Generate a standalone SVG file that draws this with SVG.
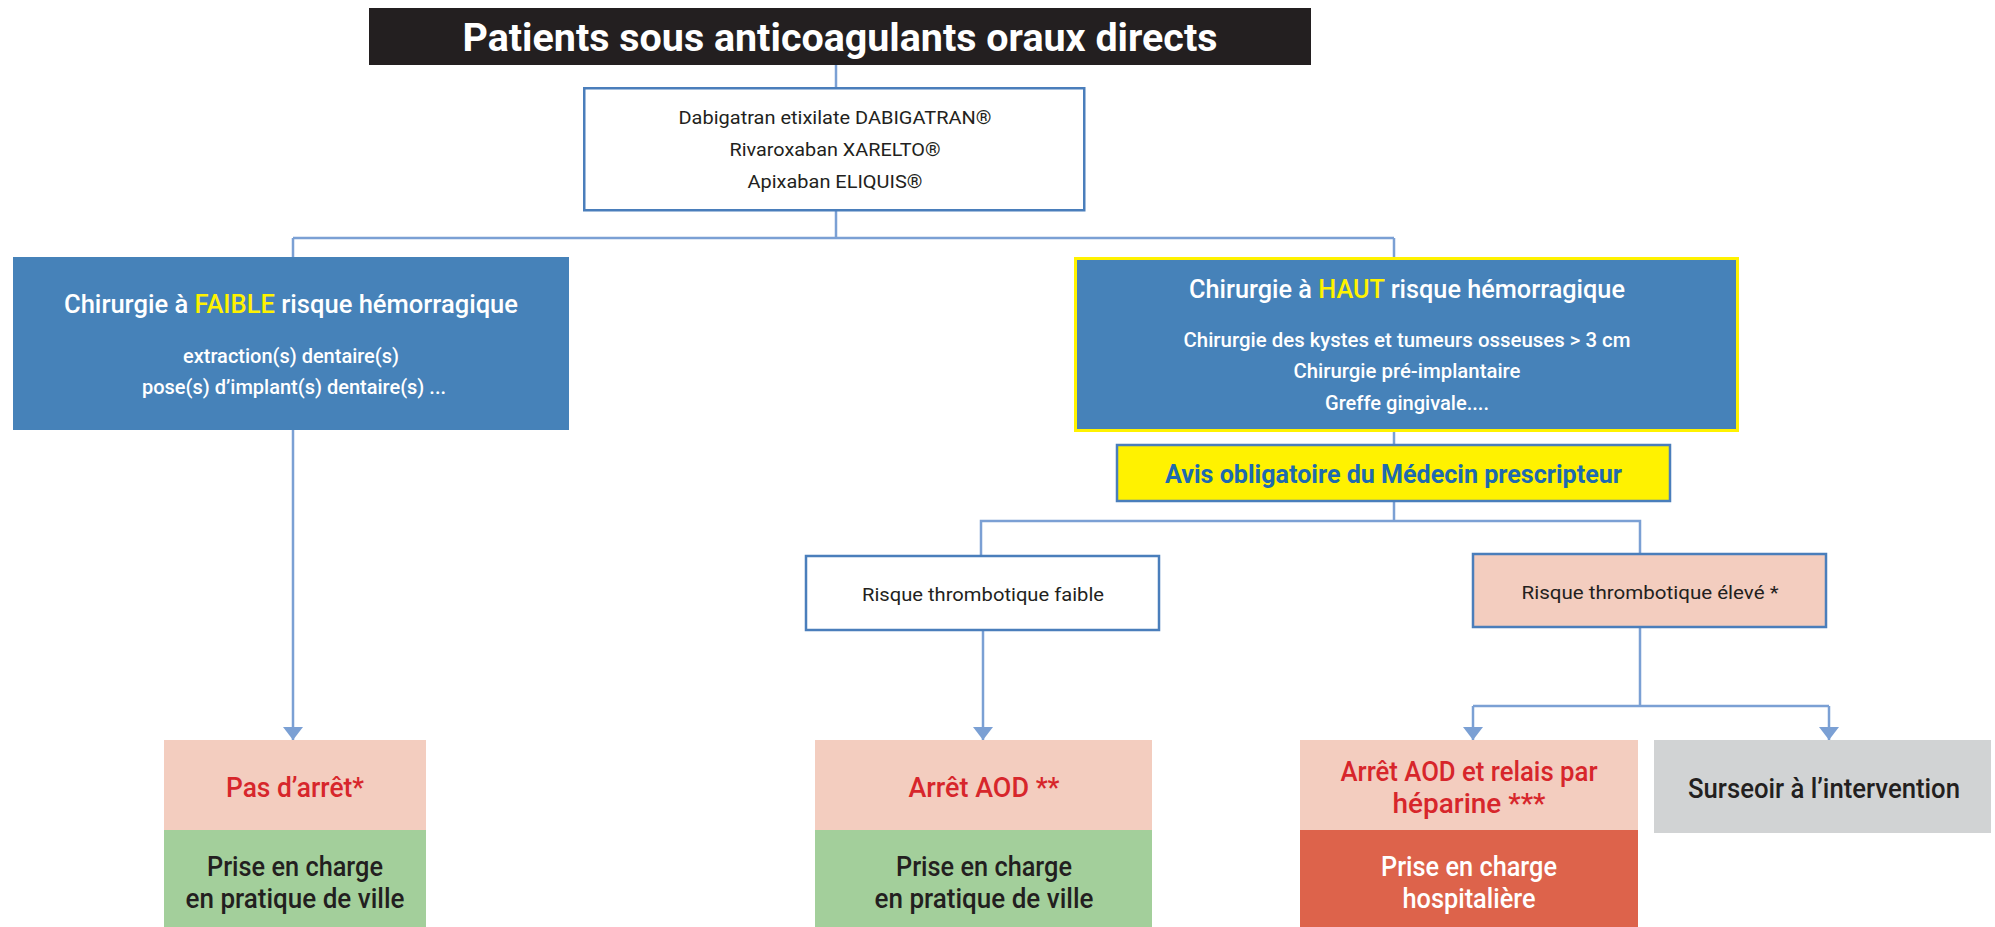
<svg xmlns="http://www.w3.org/2000/svg" width="1995" height="927" viewBox="0 0 1995 927">
<style>
text{font-family:Roboto,"Liberation Sans",Arial,sans-serif;text-anchor:middle}
.conn{fill:none;stroke:#7ba0d4;stroke-width:2.5}
.bx{stroke:#4a7ebb;stroke-width:2.5}
.white{fill:#ffffff}
.blue{fill:#4682b9}
.salmon{fill:#f3cdbf}
.green{fill:#a3cf9b}
.hosp{fill:#dd634b}
.gray{fill:#d1d3d4}
.dark{fill:#231f20}
.red{fill:#d7262b}
.yel{fill:#fff200}
.t-reg{font-size:19px;font-weight:400}
.t-title{font-size:25px;font-weight:500}
.t-sub{font-size:20px;font-weight:500}
.t-bot{font-size:27px;font-weight:500}
</style>
<defs>
<marker id="arr" viewBox="0 0 13 20" refX="13" refY="10" markerWidth="13" markerHeight="20" markerUnits="userSpaceOnUse" orient="auto">
<path d="M0,0 L13,10 L0,20 Z" fill="#7ba0d4"/>
</marker>
</defs>

<g id="connectors">
<path class="conn" d="M836 65 V88"/>
<path class="conn" d="M836 210 V238 M293 238 H1394 M293 238 V257 M1394 238 V257"/>
<path class="conn" d="M293 430 V740" marker-end="url(#arr)"/>
<path class="conn" d="M1394 432 V445"/>
<path class="conn" d="M1394 501 V521 M981 556 V521 H1640 V554"/>
<path class="conn" d="M983 630 V740" marker-end="url(#arr)"/>
<path class="conn" d="M1640 627 V706 M1473 706 H1829"/>
<path class="conn" d="M1473 706 V740" marker-end="url(#arr)"/>
<path class="conn" d="M1829 706 V740" marker-end="url(#arr)"/>
</g>

<g id="title">
<rect x="369" y="8" width="942" height="57" fill="#231f20"/>
<text x="840" y="51" class="white" font-size="38" font-weight="700" textLength="755" lengthAdjust="spacingAndGlyphs">Patients sous anticoagulants oraux directs</text>
</g>

<g id="drugs">
<rect x="584.25" y="88.25" width="500" height="122" class="white bx"/>
<text x="835" y="124" class="dark t-reg" textLength="313" lengthAdjust="spacingAndGlyphs">Dabigatran etixilate DABIGATRAN®</text>
<text x="835" y="156" class="dark t-reg" textLength="211" lengthAdjust="spacingAndGlyphs">Rivaroxaban XARELTO®</text>
<text x="835" y="188" class="dark t-reg" textLength="175" lengthAdjust="spacingAndGlyphs">Apixaban ELIQUIS®</text>
</g>

<g id="faible-risque">
<rect x="13" y="257" width="556" height="173" class="blue"/>
<text x="291" y="313" class="white t-title" textLength="454" lengthAdjust="spacingAndGlyphs">Chirurgie à <tspan class="yel">FAIBLE</tspan> risque hémorragique</text>
<text x="291" y="363" class="white t-sub" textLength="216" lengthAdjust="spacingAndGlyphs">extraction(s) dentaire(s)</text>
<text x="294" y="394" class="white t-sub" textLength="304" lengthAdjust="spacingAndGlyphs">pose(s) d’implant(s) dentaire(s) ...</text>
</g>

<g id="haut-risque">
<rect x="1075.5" y="258.5" width="662" height="172" class="blue" stroke="#fff200" stroke-width="3"/>
<text x="1407" y="298" class="white t-title" textLength="436" lengthAdjust="spacingAndGlyphs">Chirurgie à <tspan class="yel">HAUT</tspan> risque hémorragique</text>
<text x="1407" y="347" class="white t-sub" textLength="447" lengthAdjust="spacingAndGlyphs">Chirurgie des kystes et tumeurs osseuses &gt; 3 cm</text>
<text x="1407" y="378" class="white t-sub" textLength="227" lengthAdjust="spacingAndGlyphs">Chirurgie pré-implantaire</text>
<text x="1407" y="410" class="white t-sub" textLength="164" lengthAdjust="spacingAndGlyphs">Greffe gingivale....</text>
</g>

<g id="avis">
<rect x="1117" y="445" width="553" height="56" class="yel bx"/>
<text x="1393.5" y="483" fill="#1e6aaf" font-size="26" font-weight="700" textLength="457" lengthAdjust="spacingAndGlyphs">Avis obligatoire du Médecin prescripteur</text>
</g>

<g id="thrombo-faible">
<rect x="806" y="556" width="353" height="74" class="white bx"/>
<text x="983" y="601" class="dark t-reg" textLength="242" lengthAdjust="spacingAndGlyphs">Risque thrombotique faible</text>
</g>

<g id="thrombo-eleve">
<rect x="1473" y="554" width="353" height="73" class="salmon bx"/>
<text x="1650" y="599" class="dark t-reg" textLength="257" lengthAdjust="spacingAndGlyphs">Risque thrombotique élevé *</text>
</g>

<g id="pas-arret">
<rect x="164" y="740" width="262" height="91" class="salmon"/>
<rect x="164" y="830" width="262" height="97" class="green"/>
<text x="295" y="797" class="red t-bot" textLength="138" lengthAdjust="spacingAndGlyphs">Pas d’arrêt*</text>
<text x="295" y="876" class="dark t-bot" textLength="176" lengthAdjust="spacingAndGlyphs">Prise en charge</text>
<text x="295" y="908" class="dark t-bot" textLength="219" lengthAdjust="spacingAndGlyphs">en pratique de ville</text>
</g>

<g id="arret-aod">
<rect x="815" y="740" width="337" height="91" class="salmon"/>
<rect x="815" y="830" width="337" height="97" class="green"/>
<text x="984" y="797" class="red t-bot" textLength="151" lengthAdjust="spacingAndGlyphs">Arrêt AOD **</text>
<text x="984" y="876" class="dark t-bot" textLength="176" lengthAdjust="spacingAndGlyphs">Prise en charge</text>
<text x="984" y="908" class="dark t-bot" textLength="219" lengthAdjust="spacingAndGlyphs">en pratique de ville</text>
</g>

<g id="arret-relais">
<rect x="1300" y="740" width="338" height="91" class="salmon"/>
<rect x="1300" y="830" width="338" height="97" class="hosp"/>
<text x="1469" y="781" class="red t-bot" textLength="257" lengthAdjust="spacingAndGlyphs">Arrêt AOD et relais par</text>
<text x="1469" y="813" class="red t-bot" textLength="153" lengthAdjust="spacingAndGlyphs">héparine ***</text>
<text x="1469" y="876" class="white t-bot" textLength="176" lengthAdjust="spacingAndGlyphs">Prise en charge</text>
<text x="1469" y="908" class="white t-bot" textLength="133" lengthAdjust="spacingAndGlyphs">hospitalière</text>
</g>

<g id="surseoir">
<rect x="1654" y="740" width="337" height="93" class="gray"/>
<text x="1824" y="798" class="dark t-bot" textLength="272" lengthAdjust="spacingAndGlyphs">Surseoir à l’intervention</text>
</g>
</svg>
